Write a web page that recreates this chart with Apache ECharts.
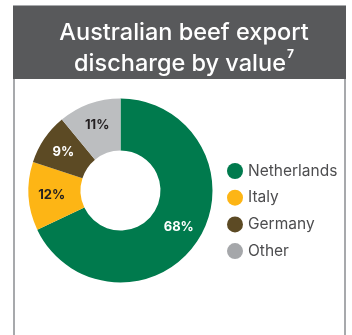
<!DOCTYPE html>
<html>
<head>
<meta charset="utf-8">
<script src="https://cdn.jsdelivr.net/npm/echarts@6/dist/echarts.min.js"></script>
<style>
  html, body { margin: 0; padding: 0; background: #fff; }
  #main { width: 352px; height: 335px; }
</style>
</head>
<body>
<div id="main"></div>
<script>
var dom = document.getElementById("main");
var myChart = echarts.init(dom);

// data
var countries = ['Netherlands', 'Italy', 'Germany', 'Other'];
var shares = [68, 12, 9, 11];
var colors = ['#007a4d', '#fdb515', '#5c4a24', '#bcbec0'];
var labelColors = ['#ffffff', '#231f20', '#ffffff', '#231f20'];
var legendColors = ['#007a4d', '#fdb515', '#5c4a24', '#a5a7aa'];

var font = 'Inter, "Noto Sans", sans-serif';

var pieData = [];
var legendData = [];
for (var i = 0; i < countries.length; i++) {
    pieData.push({
        name: countries[i],
        value: shares[i],
        itemStyle: { color: colors[i] },
        label: { color: labelColors[i] }
    });
    legendData.push({
        name: countries[i],
        itemStyle: { color: legendColors[i] }
    });
}

var option = {
    animation: false,
    graphic: [
        {
            type: 'rect',
            shape: { x: 14, y: 6, width: 331, height: 340 },
            style: { fill: '#fff', stroke: '#a7a9ac', lineWidth: 2 },
            z: 0
        },
        {
            type: 'rect',
            shape: { x: 13, y: 6, width: 333, height: 73 },
            style: { fill: '#58595b' },
            z: 1
        }
    ],
    title: {
        text: '{t|Australian beef export}\n{t|discharge by value}{s|7}',
        left: 179,
        textAlign: 'center',
        top: 12,
        textStyle: {
            rich: {
                t: { fontFamily: font, fontSize: 23.5, fontWeight: 500, color: '#fff', lineHeight: 31 },
                s: { fontFamily: font, fontSize: 12, fontWeight: 700, color: '#fff', verticalAlign: 'top', lineHeight: 31, padding: [0, 0, 10, 1] }
            }
        }
    },
    legend: {
        orient: 'vertical',
        left: 222,
        top: 158,
        icon: 'circle',
        itemWidth: 16,
        itemHeight: 16,
        itemGap: 10.7,
        selectedMode: false,
        data: legendData,
        textStyle: { fontFamily: font, fontSize: 15.5, color: '#4d4d4f' }
    },
    series: [
        {
            type: 'pie',
            center: [120.5, 190.5],
            radius: [40, 92],
            startAngle: 90,
            clockwise: true,
            silent: true,
            label: {
                position: 'inside',
                formatter: '{c}%',
                fontFamily: font,
                fontSize: 13,
                fontWeight: 'bold'
            },
            labelLine: { show: false },
            data: pieData
        }
    ]
};
myChart.setOption(option);
</script>
</body>
</html>
